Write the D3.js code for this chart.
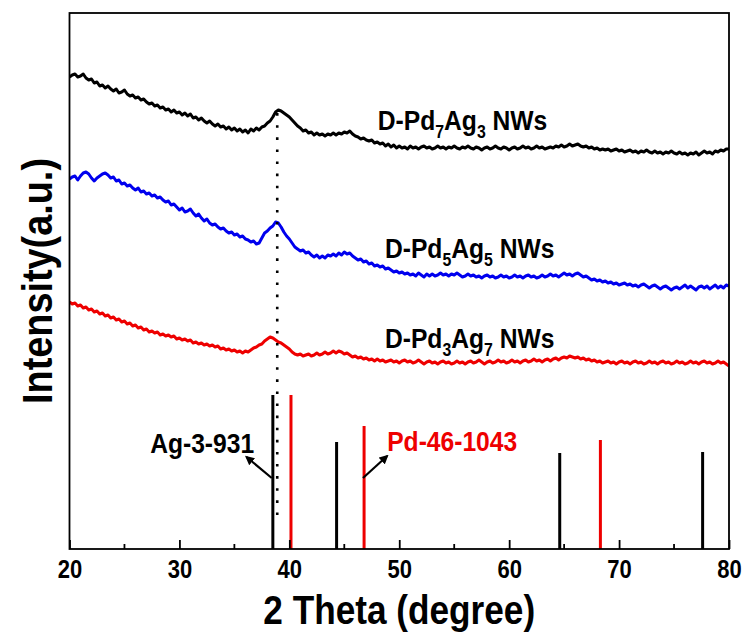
<!DOCTYPE html>
<html>
<head>
<meta charset="utf-8">
<script src="https://cdn.jsdelivr.net/npm/d3@7"></script>
<style>
  html, body { margin: 0; padding: 0; background: #fff; }
  svg { display: block; }
  text { font-family: "Liberation Sans", Arial, sans-serif; font-weight: bold; }
</style>
</head>
<body>
<svg id="chart" width="749" height="635"></svg>
<script>
// 2θ grid of the scans: 20° to 80° in 0.25° steps
const thetaStart = 20, thetaStep = 0.25;

// Offset-stacked XRD intensities (a.u.), one value per 0.25°
const pd7ag3 = [
  473,475,476,473,474,476,472,470,471,467,468,464,465,462,464,461,459,461,457,458,
  460,456,454,455,452,453,450,451,448,446,447,444,445,442,443,440,441,438,440,437,
  438,435,437,434,436,432,433,430,432,429,427,429,426,424,426,423,424,421,423,420,
  422,419,421,418,420,417,421,419,422,420,423,424,427,429,433,438,440,439,437,435,
  433,430,427,424,422,419,420,417,418,415,417,415,416,414,416,415,417,415,417,416,
  418,417,419,416,414,413,411,412,410,409,410,407,408,406,407,404,406,403,405,402,
  404,402,403,401,404,402,403,401,403,404,402,403,401,402,404,402,403,401,403,402,
  404,402,401,403,402,404,402,401,403,402,400,402,403,401,402,404,402,401,403,402,
  400,402,403,401,402,404,402,403,401,402,404,402,403,401,402,403,402,404,403,405,
  403,404,406,404,405,406,404,403,404,402,403,401,402,400,401,400,401,399,400,401,
  399,400,398,399,400,398,399,397,399,398,400,398,397,399,397,398,396,398,397,399,
  397,396,398,396,397,395,397,396,398,395,397,399,397,398,396,399,398,400,399,401,
  401
];
const pd5ag5 = [
  371,373,374,370,374,377,378,376,372,369,372,374,376,377,375,372,373,369,370,366,
  367,364,365,362,360,362,358,359,356,357,354,355,352,353,350,348,349,345,346,343,
  340,342,338,339,341,337,334,336,332,329,331,327,325,326,323,321,322,319,317,318,
  315,316,313,314,311,310,308,309,306,307,312,317,319,322,324,328,327,323,318,314,
  311,307,303,301,299,300,297,298,295,293,295,292,294,292,295,294,296,294,297,295,
  298,296,297,294,292,290,291,288,289,286,287,284,285,283,284,281,282,280,278,279,
  277,278,276,277,275,276,274,277,275,273,276,274,276,274,275,277,275,276,274,276,
  275,277,275,273,274,276,274,275,273,274,272,274,275,273,274,272,273,275,273,274,
  272,273,275,273,274,272,274,275,273,274,272,273,275,273,274,276,274,275,273,275,
  277,275,276,274,276,277,275,273,274,272,270,271,269,270,268,269,267,268,266,267,
  265,266,267,265,266,264,265,263,265,266,264,262,264,265,263,261,263,264,262,260,
  262,263,261,263,265,262,264,262,260,263,264,262,264,261,263,265,262,264,262,265,
  264
];
const pd3ag7 = [
  248,246,247,244,245,242,243,240,241,238,239,236,237,234,235,232,233,230,231,228,
  229,226,227,224,225,222,223,220,221,218,219,217,218,215,216,214,215,213,214,211,
  212,210,211,209,210,207,208,206,207,205,206,204,205,203,204,201,202,200,201,199,
  200,198,199,197,199,198,200,202,203,205,206,209,211,213,212,210,208,207,205,203,
  201,198,196,195,196,194,195,196,194,195,197,195,196,198,196,197,199,197,199,198,
  196,197,195,193,194,192,193,191,192,190,191,189,191,189,190,188,189,190,188,189,
  187,189,190,188,189,187,188,190,188,186,188,189,187,188,186,188,189,187,188,186,
  187,189,187,188,186,188,189,187,188,190,188,186,188,189,187,188,190,188,189,187,
  188,190,188,189,187,189,190,188,189,191,189,190,188,190,191,189,191,192,190,192,
  193,192,194,193,192,193,191,192,190,191,189,190,188,189,187,188,189,187,188,186,
  188,189,187,188,186,188,189,187,188,186,187,189,187,188,186,188,189,187,188,186,
  187,189,187,188,186,187,189,187,188,186,188,189,187,188,186,187,189,187,188,186,
  184
];

const sampleLabels = [
  { main: "D-Pd", sub1: "7", mid: "Ag", sub2: "3", tail: " NWs" },
  { main: "D-Pd", sub1: "5", mid: "Ag", sub2: "5", tail: " NWs" },
  { main: "D-Pd", sub1: "3", mid: "Ag", sub2: "7", tail: " NWs" }
];
const sampleColors = ["#000000", "#0000ee", "#ee0000"];
// label anchor in data units (2θ, intensity)
const labelTheta = [48.05, 48.7, 48.7];
const labelLevel = [420, 292, 202];

// Standard reference patterns (stick positions and relative heights)
const agTheta = [38.5, 44.3, 64.6, 77.6];
const agHeight = [155, 108, 97, 98];
const pdTheta = [40.15, 46.8, 68.3];
const pdHeight = [155, 124, 110];

const xTicks = [20, 30, 40, 50, 60, 70, 80];
const xMinor = [25, 35, 45, 55, 65, 75];

// peak guide and card annotations
const guideTheta = 38.9, guideFrom = 35, guideTo = 442;
const agCard = { text: "Ag-3-931", from: [38.4, 72], to: [36.1, 93], at: [36.8, 97] };
const pdCard = { text: "Pd-46-1043", from: [46.7, 72], to: [48.9, 94], at: [48.9, 99] };

// condensed bold lettering
const squeeze = 0.88;

const svg = d3.select("#chart");
const plot = { left: 69.5, right: 729, top: 13, bottom: 549 };

const x = d3.scaleLinear().domain([20, 80]).range([plot.left, plot.right]);
const y = d3.scaleLinear().domain([0, 540]).range([550, 10]);

const defs = svg.append("defs");
defs.append("clipPath").attr("id", "plotClip")
  .append("rect")
  .attr("x", plot.left).attr("y", plot.top)
  .attr("width", plot.right - plot.left).attr("height", plot.bottom - plot.top);
defs.append("marker")
  .attr("id", "arrowHead")
  .attr("viewBox", "0 0 10 10")
  .attr("refX", 8).attr("refY", 5)
  .attr("markerWidth", 4.2).attr("markerHeight", 4.2)
  .attr("orient", "auto")
  .append("path").attr("d", "M0,0 L10,5 L0,10 Z").attr("fill", "#000");

function placedText(px, py, size, color, anchor) {
  return svg.append("text")
    .attr("transform", `translate(${px},${py}) scale(${squeeze},1)`)
    .attr("text-anchor", anchor || "start")
    .attr("font-size", size).attr("fill", color);
}

const g = svg.append("g").attr("clip-path", "url(#plotClip)");

// scans
const line = d3.line()
  .x((d, i) => x(thetaStart + i * thetaStep))
  .y(d => y(d));
[pd7ag3, pd5ag5, pd3ag7].forEach((series, k) => {
  g.append("path")
    .datum(series)
    .attr("d", line)
    .attr("fill", "none")
    .attr("stroke", sampleColors[k])
    .attr("stroke-width", 3)
    .attr("stroke-linejoin", "round");
});

// reference sticks
g.selectAll("line.ag").data(agTheta).join("line")
  .attr("class", "ag")
  .attr("x1", d => x(d)).attr("x2", d => x(d))
  .attr("y1", y(0)).attr("y2", (d, i) => y(agHeight[i]))
  .attr("stroke", "#000").attr("stroke-width", 3);
g.selectAll("line.pd").data(pdTheta).join("line")
  .attr("class", "pd")
  .attr("x1", d => x(d)).attr("x2", d => x(d))
  .attr("y1", y(0)).attr("y2", (d, i) => y(pdHeight[i]))
  .attr("stroke", "#ee0000").attr("stroke-width", 3);

// dotted guide through the main peak
g.append("line")
  .attr("x1", x(guideTheta)).attr("x2", x(guideTheta))
  .attr("y1", y(guideFrom)).attr("y2", y(guideTo))
  .attr("stroke", "#000").attr("stroke-width", 2.6)
  .attr("stroke-dasharray", "2.6 9.5");

// arrows + card labels
[agCard, pdCard].forEach(c => {
  svg.append("line")
    .attr("x1", x(c.from[0])).attr("y1", y(c.from[1]))
    .attr("x2", x(c.to[0])).attr("y2", y(c.to[1]))
    .attr("stroke", "#000").attr("stroke-width", 2.2)
    .attr("marker-end", "url(#arrowHead)");
});
placedText(x(agCard.at[0]), y(agCard.at[1]), 28, "#000", "end").text(agCard.text);
placedText(x(pdCard.at[0]), y(pdCard.at[1]), 28, "#ee0000", "start").text(pdCard.text);

// sample labels with subscripts
sampleLabels.forEach((lab, k) => {
  const t = placedText(x(labelTheta[k]), y(labelLevel[k]), 28, "#000", "start");
  t.append("tspan").text(lab.main);
  t.append("tspan").attr("font-size", 18).attr("dy", 8).text(lab.sub1);
  t.append("tspan").attr("dy", -8).text(lab.mid);
  t.append("tspan").attr("font-size", 18).attr("dy", 8).text(lab.sub2);
  t.append("tspan").attr("dy", -8).text(lab.tail);
});

// frame
svg.append("rect")
  .attr("x", plot.left).attr("y", plot.top)
  .attr("width", plot.right - plot.left).attr("height", plot.bottom - plot.top)
  .attr("fill", "none").attr("stroke", "#000").attr("stroke-width", 1.8);

// bottom axis: inward ticks
const axis = svg.append("g").attr("transform", `translate(0,${plot.bottom})`);
axis.call(d3.axisBottom(x).tickValues(xTicks).tickSize(-9).tickPadding(11).tickFormat(d3.format("d")));
axis.select(".domain").remove();
axis.selectAll(".tick line").attr("stroke", "#000").attr("stroke-width", 1.8);
axis.selectAll(".tick text")
  .attr("transform", `scale(${squeeze},1)`)
  .attr("font-size", 25).attr("fill", "#000")
  .attr("font-family", "'Liberation Sans', Arial, sans-serif").attr("font-weight", "bold");
axis.append("g").selectAll("line").data(xMinor).join("line")
  .attr("x1", d => x(d)).attr("x2", d => x(d))
  .attr("y1", 0).attr("y2", -5)
  .attr("stroke", "#000").attr("stroke-width", 1.8);

// axis titles
placedText((plot.left + plot.right) / 2, 624, 40, "#000", "middle").text("2 Theta (degree)");
svg.append("text")
  .attr("transform", `translate(52,${(plot.top + plot.bottom) / 2}) rotate(-90) scale(${squeeze},1)`)
  .attr("text-anchor", "middle").attr("font-size", 43).attr("fill", "#000")
  .text("Intensity(a.u.)");
</script>
</body>
</html>
